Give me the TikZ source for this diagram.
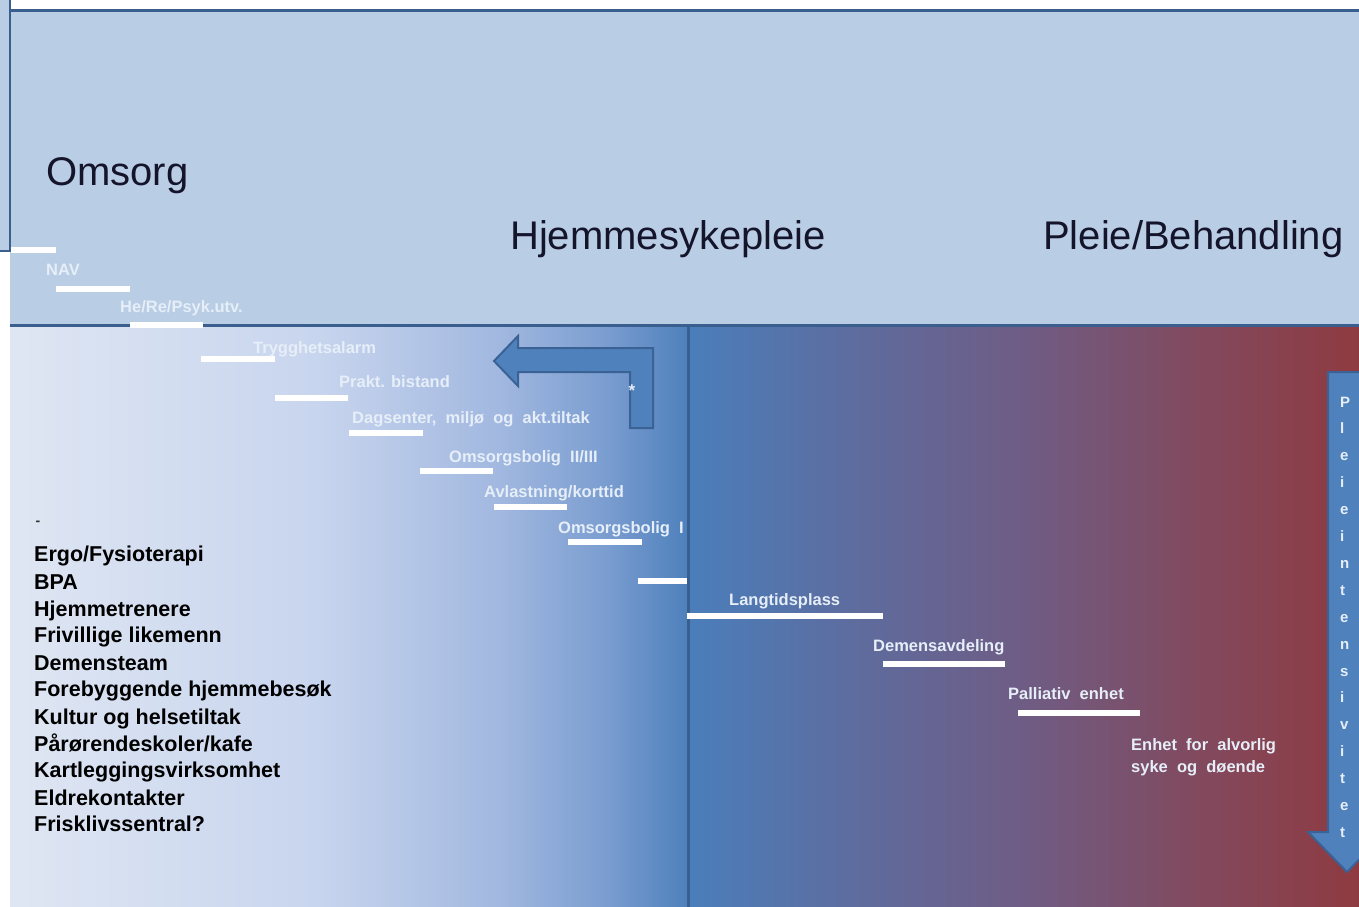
\documentclass[tikz,border=0pt]{standalone}
\usepackage{fontspec}
\setmainfont{Liberation Sans}
\definecolor{hdr}{HTML}{B9CDE5}
\definecolor{rulec}{HTML}{3A5F8E}
\definecolor{arrowfill}{HTML}{4F81BD}
\definecolor{arrowedge}{HTML}{3B6294}
\definecolor{lbl}{HTML}{E6EEF8}
\definecolor{headtext}{HTML}{14142A}
\definecolor{ga}{HTML}{DFE6F3}
\definecolor{gb}{HTML}{C8D5EE}
\definecolor{gc}{HTML}{A2B8E0}
\definecolor{gd}{HTML}{7A9DD0}
\definecolor{ge}{HTML}{4E80BC}
\definecolor{ra}{HTML}{4A7EBB}
\definecolor{rb}{HTML}{5E6C9E}
\definecolor{rc}{HTML}{6F5C84}
\definecolor{rd}{HTML}{814A5F}
\definecolor{re}{HTML}{8F3A40}
\pgfdeclarehorizontalshading{leftgrad}{100bp}{color(0bp)=(ga); color(25bp)=(ga); color(47.5bp)=(gb); color(61bp)=(gc); color(69bp)=(gd); color(75bp)=(ge); color(100bp)=(ge)}
\pgfdeclarehorizontalshading{rightgrad}{100bp}{color(0bp)=(ra); color(25bp)=(ra); color(37.5bp)=(rb); color(50bp)=(rc); color(62.5bp)=(rd); color(75bp)=(re); color(100bp)=(re)}
\begin{document}
\begin{tikzpicture}[x=1pt,y=-1pt,
  bar/.style={draw=white,line width=6pt},
  steplabel/.style={anchor=base west,inner sep=0pt,text=lbl,font=\fontsize{16.5}{18}\selectfont\bfseries},
  listitem/.style={anchor=base west,inner sep=0pt,text=black,font=\fontsize{21.5}{24}\selectfont\bfseries},
  headlabel/.style={anchor=base west,inner sep=0pt,text=headtext,font=\fontsize{40}{46}\selectfont},
  arrowshape/.style={fill=arrowfill,draw=arrowedge,line width=2pt,line join=miter},
  vletter/.style={anchor=base west,inner sep=0pt,text=lbl,font=\fontsize{15}{17}\selectfont\bfseries}]
\useasboundingbox (0,0) rectangle (1359,906);
\fill[white] (0,0) rectangle (1359,906);
% header
\fill[hdr] (10,10) rectangle (1365,325);
\filldraw[fill=hdr,draw=rulec,line width=2pt] (-5,-5) -- (10,-5) -- (10,251) -- (-5,251);
\draw[rulec,line width=3pt] (10,10.5) -- (1365,10.5);
% body gradients
\fill[shading=leftgrad] (10,325) rectangle (688,910);
\fill[shading=rightgrad] (688,325) rectangle (1362,910);
\draw[rulec,line width=3pt] (10,325) -- (1365,325);
\draw[rulec,line width=3pt] (688.3,325) -- (688.3,910);
% headings
\node[headlabel] (omsorg) at (46,185) {Omsorg};
\node[headlabel] (hjem) at (510,249) {Hjemmesykepleie};
\node[headlabel] (pleie) at (1043,249) {Pleie/Behandling};
% staircase bars
\coordinate (b1a) at (11,250); \coordinate (b1b) at (56,250);
\coordinate (b2a) at (56,288.5); \coordinate (b2b) at (130,288.5);
\coordinate (b3a) at (130,324.5); \coordinate (b3b) at (203,324.5);
\coordinate (b4a) at (201,359); \coordinate (b4b) at (275,359);
\coordinate (b5a) at (275,397.5); \coordinate (b5b) at (348,397.5);
\coordinate (b6a) at (349,433); \coordinate (b6b) at (423,433);
\coordinate (b7a) at (420,471); \coordinate (b7b) at (493,471);
\coordinate (b8a) at (494,507); \coordinate (b8b) at (567,507);
\coordinate (b9a) at (568,542); \coordinate (b9b) at (642,542);
\coordinate (b10a) at (638,581); \coordinate (b10b) at (687,581);
\coordinate (b11a) at (687,616); \coordinate (b11b) at (883,616);
\coordinate (b12a) at (883,664); \coordinate (b12b) at (1005,664);
\coordinate (b13a) at (1018,712.5); \coordinate (b13b) at (1140,712.5);
\foreach \i in {1,...,13} {\draw[bar] (b\i a) -- (b\i b);}
% step labels
\node[steplabel] (nav) at (46,275) {NAV};
\node[steplabel] (herepsyk) at (120,312) {He/Re/Psyk.utv.};
\node[steplabel] (trygg) at (253,353) {Trygghetsalarm};
\node[steplabel] (prakt) at (339,387) {Prakt. bistand};
\node[steplabel] (dag) at (352,423) {Dagsenter,\ \ miljø\ \ og\ \ akt.tiltak};
\node[steplabel] (omsb2) at (449,462) {Omsorgsbolig\ \ II/III};
\node[steplabel] (avl) at (484,497) {Avlastning/korttid};
\node[steplabel] (omsb1) at (558,533) {Omsorgsbolig\ \ I};
\node[steplabel] (lang) at (729,605) {Langtidsplass};
\node[steplabel] (dem) at (873,651) {Demensavdeling};
\node[steplabel] (pall) at (1008,699) {Palliativ\ \ enhet};
\node[steplabel] (alv1) at (1131,750) {Enhet\ \ for\ \ alvorlig};
\node[steplabel] (alv2) at (1131,772) {syke\ \ og\ \ døende};
% left-pointing L arrow
\draw[arrowshape] (494,361) -- (518,336) -- (518,348) -- (653,348) -- (653,428) -- (630,428) -- (630,372) -- (518,372) -- (518,386) -- cycle;
\node[inner sep=0pt,text=lbl,font=\fontsize{17}{17}\selectfont\bfseries] (star) at (632,391) {*};
% right vertical arrow
\draw[arrowshape] (1328,372) -- (1370,372) -- (1370,832) -- (1386,832) -- (1347,872) -- (1308,832) -- (1328,832) -- cycle;
\foreach \ch [count=\k from 0] in {P,l,e,i,e,i,n,t,e,n,s,i,v,i,t,e,t} {
  \node[vletter] (v\k) at (1340,{407+26.9*\k}) {\ch};
}
% list
\node[inner sep=0pt,text=black!80,font=\fontsize{14}{14}\selectfont\bfseries] (dash) at (38,523) {-};
\node[listitem] (l1) at (34,561) {Ergo/Fysioterapi};
\node[listitem] (l2) at (34,589) {BPA};
\node[listitem] (l3) at (34,616) {Hjemmetrenere};
\node[listitem] (l4) at (34,642) {Frivillige likemenn};
\node[listitem] (l5) at (34,670) {Demensteam};
\node[listitem] (l6) at (34,696) {Forebyggende hjemmebesøk};
\node[listitem] (l7) at (34,724) {Kultur og helsetiltak};
\node[listitem] (l8) at (34,751) {Pårørendeskoler/kafe};
\node[listitem] (l9) at (34,777) {Kartleggingsvirksomhet};
\node[listitem] (l10) at (34,805) {Eldrekontakter};
\node[listitem] (l11) at (34,831) {Frisklivssentral?};
\end{tikzpicture}
\end{document}
